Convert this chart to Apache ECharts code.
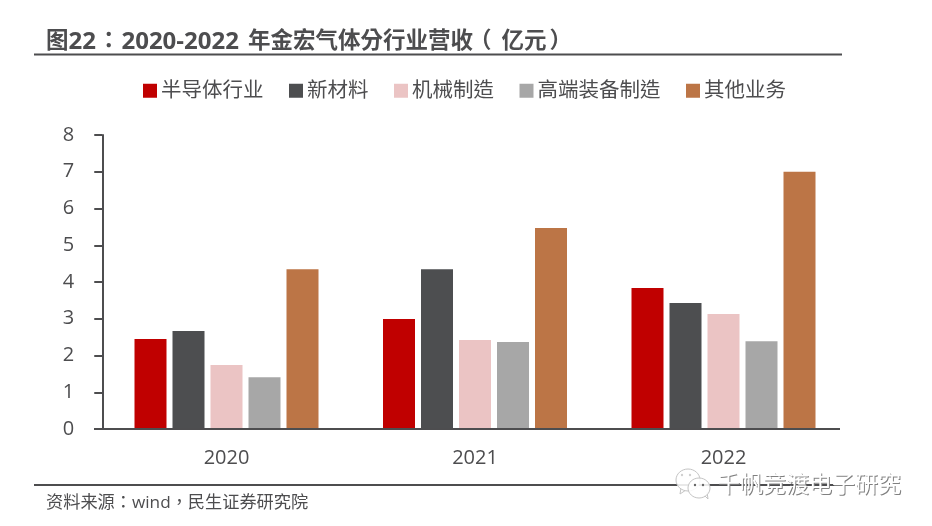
<!DOCTYPE html>
<html>
<head>
<meta charset="utf-8">
<style>html,body{margin:0;padding:0;background:#fff}#c{width:932px;height:526px}</style>
<script src="https://cdn.jsdelivr.net/npm/echarts@6/dist/echarts.min.js"></script>
</head>
<body>
<div id="c"></div>
<script>
const years = ['2020', '2021', '2022'];
const seriesNames = ['半导体行业', '新材料', '机械制造', '高端装备制造', '其他业务'];
const semiconductor = [2.45, 2.99, 3.84];
const newMaterials = [2.67, 4.35, 3.43];
const machinery = [1.74, 2.42, 3.13];
const highEnd = [1.41, 2.37, 2.39];
const others = [4.35, 5.47, 7.0];
const seriesValues = [semiconductor, newMaterials, machinery, highEnd, others];
const colors = ['#c00000', '#4d4e50', '#ebc4c4', '#a7a7a7', '#bc7546'];
const sourceText = '资料来源：wind，民生证券研究院';
const watermarkText = '千帆竞渡电子研究';
const ink = '#4d4d4f';
const fontFam = '"Open Sans","Noto Sans CJK TC","Noto Sans CJK SC",sans-serif';

const chart = echarts.init(document.getElementById('c'), null, {renderer: 'canvas'});
const rule = (x1, x2, y, w) => ({type: 'line', z: 20, silent: true,
  shape: {x1, y1: y, x2, y2: y}, style: {stroke: ink, lineWidth: w}});
const bubble = (cx, cy, rx, ry, z) => ({type: 'ellipse', z, silent: true,
  shape: {cx, cy, rx, ry}, style: {fill: 'rgba(255,255,255,0.88)', stroke: '#c4c4c4', lineWidth: 1}});
const dot = (cx, cy, c) => ({type: 'circle', z: 24, silent: true, shape: {cx, cy, r: 1.2}, style: {fill: c}});
const tail = (pts, z) => ({type: 'polyline', z, silent: true, shape: {points: pts},
  style: {fill: 'none', stroke: '#c4c4c4', lineWidth: 1}});
const mark = (x, y, fill, z) => ({type: 'text', z, silent: true, x, y,
  style: {text: watermarkText, font: '23px ' + fontFam, fill}});

const tb = {fontFamily: fontFam, fontWeight: 'bold', color: ink, lineHeight: 26};
chart.setOption({
  animation: false,
  backgroundColor: '#fff',
  textStyle: {fontFamily: fontFam},
  title: {
    text: '{c|图}{l|22}{p1|：}{l|2020-2022}{s|年金宏气体分行业营收}{o|（}{c|亿元}{e|）}',
    left: 41, top: 24,
    textStyle: {
      rich: {
        c: Object.assign({}, tb, {fontSize: 22.5}),
        l: Object.assign({}, tb, {fontSize: 24}),
        p1: Object.assign({}, tb, {fontSize: 22.5, padding: [0, 1.5, 0, 1.5]}),
        s: Object.assign({}, tb, {fontSize: 22.5, padding: [0, 0, 0, 9]}),
        o: Object.assign({}, tb, {fontSize: 22.5, padding: [0, 10, 0, -4]}),
        e: Object.assign({}, tb, {fontSize: 22.5, padding: [0, 0, 0, 3]})
      }
    }
  },
  legend: {
    data: seriesNames, left: 138, top: 75.5, itemWidth: 14, itemHeight: 14, itemGap: 25.5,
    icon: 'rect',
    textStyle: {fontFamily: fontFam, fontSize: 20.5, color: ink, padding: [0, 0, 0, -1]}
  },
  grid: {left: 102.25, top: 135, width: 745.5, height: 294, containLabel: false},
  xAxis: {
    type: 'category', data: years,
    axisLine: {show: false}, axisTick: {show: false},
    axisLabel: {fontSize: 20, color: ink, margin: 19, fontFamily: fontFam}
  },
  yAxis: {
    type: 'value', min: 0, max: 8, interval: 1,
    splitLine: {show: false},
    axisLine: {show: true, lineStyle: {color: ink, width: 2}},
    axisTick: {show: true, length: 8, lineStyle: {color: ink, width: 2}},
    axisLabel: {fontSize: 20, color: ink, margin: 28, fontFamily: fontFam, padding: [4, 0, 0, 0]}
  },
  series: seriesNames.map((name, i) => ({
    name, type: 'bar', data: seriesValues[i], barWidth: 32, barGap: '18.75%',
    itemStyle: {color: colors[i]}
  })),
  graphic: [
    rule(34, 842, 54.5, 2),
    rule(94, 840, 429, 2),
    rule(34, 842, 485, 2),
    {type: 'text', z: 20, silent: true, x: 46, y: 495,
      style: {text: sourceText, font: '17.2px ' + fontFam, fill: ink}},
    tail([[681, 488], [680, 494], [686, 490]], 22),
    bubble(688, 480, 12, 11, 22),
    tail([[704, 495], [708, 499], [707, 492]], 23),
    bubble(699, 488, 11, 10, 23),
    dot(682, 475, '#d0d0d0'), dot(690, 475, '#d0d0d0'),
    dot(695, 485, '#666'), dot(703, 485, '#666'),
    mark(718, 475, '#808080', 25),
    mark(717, 474, '#ffffff', 26)
  ]
});
</script>
</body>
</html>
